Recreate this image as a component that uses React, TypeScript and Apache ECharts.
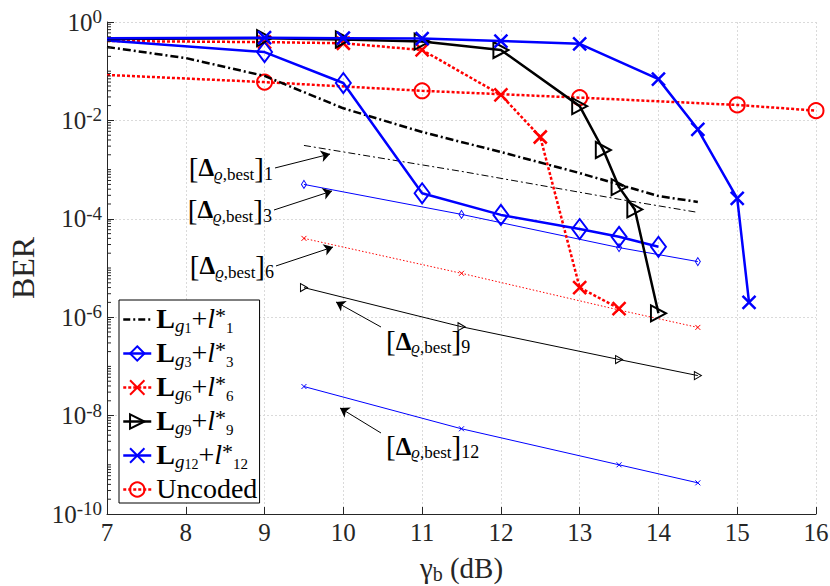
import React, { useEffect, useRef } from 'react';
import * as echarts from 'echarts';

// ---------------- data ----------------
const lg1X = [7, 8, 9, 10, 11, 12, 13, 14, 14.5];
const lg1Y = [0.31, 0.185, 0.08, 0.0176, 0.0058, 0.00228, 0.00085, 0.00029, 0.00022];

const lg3X = [7, 9, 10, 11, 12, 13, 13.5, 14];
const lg3Y = [0.42, 0.245, 0.0575, 0.00033, 0.00012, 0.000062, 0.000043, 0.000027];

const lg6X = [7, 9, 10, 11, 12, 12.5, 13, 13.5];
const lg6Y = [0.41, 0.39, 0.37, 0.27, 0.033, 0.0046, 0.000004, 0.0000015];

const lg9X = [7, 9, 10, 11, 12, 13, 13.3, 13.5, 13.7, 14];
const lg9Y = [0.45, 0.47, 0.44, 0.4, 0.27, 0.0195, 0.0025, 0.00044, 0.000155, 0.0000012];

const lg12X = [7, 9, 10, 11, 12, 13, 14, 14.5, 15, 15.15];
const lg12Y = [0.47, 0.48, 0.47, 0.46, 0.41, 0.36, 0.069, 0.0066, 0.00026, 0.000002];

const uncX = [7, 9, 11, 13, 15, 16];
const uncY = [0.084, 0.06, 0.04, 0.029, 0.0206, 0.0158];

const bestX = [9.5, 11.5, 13.5, 14.5];
const best1Y = [0.0031, 0.00092, 0.00025, 0.000135];
const best3Y = [0.0005, 0.000123, 0.000026, 0.0000135];
const best6Y = [0.00004, 0.0000078, 0.0000014, 0.00000062];
const best9Y = [0.000004, 0.00000064, 0.000000138, 0.000000065];
const best12Y = [3.9e-8, 5.4e-9, 1.0e-9, 4.3e-10];

// x positions without a marker
const noMarkAt7 = [7];

// y axis: labelled decades every 2, minor ticks on the log grid (mantissas 1..9)
const yMinExp = -10;
const yMaxExp = 0;
const minorMantissas = [1, 2, 3, 4, 5, 6, 7, 8, 9];

// annotation labels: index k of [Δ_{ϱ,best}]_k, arrow start / end and text anchor (data coords)
const annK = ['1', '3', '6', '9', '12'];
const annFrom = [[9.133, 1.08e-3], [9.12, 1.51e-4], [9.145, 1.1e-5], [10.478, 6.32e-7], [10.478, 4.43e-9]];
const annTo = [[9.831, 2.07e-3], [9.856, 3.67e-4], [9.869, 2.67e-5], [9.907, 2.04e-6], [9.958, 1.43e-8]];
const annText = [[9.12, 1.08e-3], [9.107, 1.51e-4], [9.133, 1.1e-5], [10.529, 3.28e-7], [10.529, 2.41e-9]];
const annSide = ['left', 'left', 'left', 'right', 'right'];

// ---------------- styles ----------------
const SERIF = 'Liberation Serif, Times New Roman, serif';
const BLUE = '#0000ff';
const RED = '#ff0000';
const BLACK = '#000000';
const AX = '#262626';
const XSYM = 'path://M0,0L10,10M10,0L0,10';
const GRID = { color: '#dadada', width: 1, type: [2, 2] as any };

const mk = (xs: number[], ys: number[], noMark: number[]) =>
  xs.map((x, i) => (noMark.indexOf(x) >= 0 ? { value: [x, ys[i]], symbol: 'none' } : [x, ys[i]]));

const hollow = (c: string, w = 2) => ({ color: 'rgba(0,0,0,0)', borderColor: c, borderWidth: w });

// minor tick values (not on labelled decades)
const minorTickValues: number[] = [];
for (let e = yMinExp; e < yMaxExp; e++) {
  minorMantissas.forEach((m) => {
    if (m === 1 && (e - yMinExp) % 2 === 0) return;
    minorTickValues.push(m * Math.pow(10, e));
  });
}

const annRich = {
  br: { fontFamily: SERIF, fontSize: 29, lineHeight: 30, color: BLACK },
  D: { fontFamily: SERIF, fontSize: 25, fontWeight: 'bold', lineHeight: 30, color: BLACK },
  r: { fontFamily: SERIF, fontSize: 17, fontStyle: 'italic', lineHeight: 25, verticalAlign: 'bottom', color: BLACK },
  s: { fontFamily: SERIF, fontSize: 17, lineHeight: 25, verticalAlign: 'bottom', color: BLACK },
  n: { fontFamily: SERIF, fontSize: 18, lineHeight: 21, verticalAlign: 'bottom', color: BLACK },
};

const annSeriesExtras = (i: number) => ({
  markLine: {
    silent: true,
    animation: false,
    symbol: ['none', 'arrow'],
    symbolSize: 9,
    label: { show: false },
    lineStyle: { color: BLACK, width: 1, type: 'solid' },
    emphasis: { disabled: true },
    data: [[{ coord: annFrom[i] }, { coord: annTo[i] }]],
  },
  markPoint: {
    silent: true,
    animation: false,
    symbol: 'circle',
    symbolSize: 0,
    itemStyle: { color: 'rgba(0,0,0,0)' },
    label: {
      show: true,
      position: annSide[i],
      distance: 1,
      formatter: `{br|[}{D|Δ}{r|ϱ}{s|,best}{br|]}{n|${annK[i]}}`,
      rich: annRich,
    },
    data: [{ coord: annText[i] }],
  },
});

const legendRich = {
  L: { fontFamily: SERIF, fontSize: 28, fontWeight: 'bold', lineHeight: 26, verticalAlign: 'top', color: BLACK },
  t: { fontFamily: SERIF, fontSize: 28, lineHeight: 26, verticalAlign: 'top', color: BLACK },
  u: { fontFamily: SERIF, fontSize: 28, lineHeight: 28, verticalAlign: 'top', color: BLACK },
  i: { fontFamily: SERIF, fontSize: 28, fontStyle: 'italic', lineHeight: 26, verticalAlign: 'top', color: BLACK },
  g: { fontFamily: SERIF, fontSize: 19, fontStyle: 'italic', lineHeight: 25, verticalAlign: 'bottom', color: BLACK },
  gn: { fontFamily: SERIF, fontSize: 14, lineHeight: 16, verticalAlign: 'bottom', color: BLACK },
  ast: { fontFamily: SERIF, fontSize: 22, lineHeight: 28, verticalAlign: 'top', color: BLACK },
  ln: { fontFamily: SERIF, fontSize: 15, lineHeight: 16, verticalAlign: 'bottom', color: BLACK },
  pad: { fontFamily: SERIF, fontSize: 1, lineHeight: 31 },
};

const legendFormatter = (name: string) => {
  if (name === 'Uncoded') return '{u|Uncoded}{pad| }';
  const k = name.slice(2);
  return `{L|L}{g|g}{gn|${k}}{t|+}{i|l}{ast|*}{ln|${k}}{pad| }`;
};

function buildOption(): any {
  return {
    animation: false,
    backgroundColor: '#ffffff',
    grid: { left: 107, right: 14, top: 22, bottom: 72, outerBoundsMode: 'none' },
    xAxis: {
      type: 'value',
      min: 7,
      max: 16,
      interval: 1,
      axisLine: { show: true, onZero: false, lineStyle: { color: AX, width: 1 } },
      axisTick: { show: true, inside: true, length: 7, lineStyle: { color: AX } },
      axisLabel: { color: AX, fontSize: 25, lineHeight: 28, fontFamily: SERIF, margin: 4 },
      splitLine: { show: true, lineStyle: GRID },
      name: '{g|γ}{b|b}{t| (dB)}',
      nameLocation: 'middle',
      nameGap: 38,
      nameTextStyle: {
        fontFamily: SERIF,
        fontSize: 29,
        color: AX,
        rich: {
          g: { fontFamily: SERIF, fontSize: 29, lineHeight: 32, color: AX },
          b: { fontFamily: SERIF, fontSize: 20, lineHeight: 23, verticalAlign: 'bottom', color: AX },
          t: { fontFamily: SERIF, fontSize: 29, lineHeight: 32, color: AX },
        },
      },
    },
    yAxis: {
      type: 'log',
      logBase: 10,
      min: Math.pow(10, yMinExp),
      max: Math.pow(10, yMaxExp),
      interval: 2,
      axisLine: { show: true, onZero: false, lineStyle: { color: AX, width: 1 } },
      axisTick: { show: true, inside: true, length: 7, lineStyle: { color: AX } },
      axisLabel: {
        color: AX,
        fontSize: 25,
        lineHeight: 30,
        fontFamily: SERIF,
        margin: 5,
        formatter: (v: number) => `10{sup|${Math.round(Math.log10(v))}}`,
        rich: { sup: { fontFamily: SERIF, fontSize: 19, lineHeight: 18, verticalAlign: 'top', color: AX } },
      },
      splitLine: { show: true, lineStyle: GRID },
      name: 'BER',
      nameLocation: 'middle',
      nameGap: 64,
      nameTextStyle: { fontFamily: SERIF, fontSize: 32, lineHeight: 36, color: AX },
    },
    legend: {
      show: true,
      orient: 'vertical',
      left: 119,
      top: 300,
      align: 'left',
      itemWidth: 28,
      itemHeight: 18,
      itemGap: 3,
      itemTextGap: 2,
      padding: [4, 2, 1, 3],
      backgroundColor: '#ffffff',
      borderColor: BLACK,
      borderWidth: 1,
      borderRadius: 0,
      selectedMode: false,
      formatter: legendFormatter,
      textStyle: { fontFamily: SERIF, fontSize: 28, color: BLACK, rich: legendRich },
      data: [
        { name: 'Lg1', itemStyle: { opacity: 0 }, lineStyle: { color: BLACK, width: 2.5, type: [7, 3, 2, 3] } },
        { name: 'Lg3', itemStyle: hollow(BLUE), lineStyle: { color: BLUE, width: 2.5, type: 'solid' } },
        { name: 'Lg6', itemStyle: hollow(RED), lineStyle: { color: RED, width: 2.5, type: [3, 2] } },
        { name: 'Lg9', itemStyle: hollow(BLACK), lineStyle: { color: BLACK, width: 2.5, type: 'solid' } },
        { name: 'Lg12', itemStyle: hollow(BLUE), lineStyle: { color: BLUE, width: 2.5, type: 'solid' } },
        { name: 'Uncoded', itemStyle: hollow(RED), lineStyle: { color: RED, width: 2.5, type: [3, 2] } },
      ],
    },
    series: [
      // minor ticks of the log y axis, placed through the axis scale
      {
        name: 'yMinorTicks',
        type: 'custom',
        silent: true,
        clip: false,
        z: 8,
        data: minorTickValues.map((v) => [7, v]),
        encode: { x: 0, y: 1 },
        renderItem: (params: any, api: any) => {
          const p = api.coord([api.value(0), api.value(1)]);
          return {
            type: 'line',
            shape: { x1: p[0], y1: p[1], x2: p[0] + 4, y2: p[1] },
            style: { stroke: AX, lineWidth: 1 },
          };
        },
      },
      // thin reference lines [Δ]_k
      {
        name: 'D1', type: 'line', data: mk(bestX, best1Y, []), symbol: 'none', z: 3,
        lineStyle: { color: BLACK, width: 1, type: [7, 3, 2, 3] }, itemStyle: { color: BLACK },
        emphasis: { disabled: true }, ...annSeriesExtras(0),
      },
      {
        name: 'D3', type: 'line', data: mk(bestX, best3Y, []), symbol: 'diamond', symbolSize: [5, 8], z: 3,
        lineStyle: { color: BLUE, width: 1 }, itemStyle: hollow(BLUE, 1),
        emphasis: { disabled: true }, ...annSeriesExtras(1),
      },
      {
        name: 'D6', type: 'line', data: mk(bestX, best6Y, []), symbol: XSYM, symbolSize: 5, z: 3,
        lineStyle: { color: RED, width: 1, type: [1.5, 2] }, itemStyle: hollow(RED, 1),
        emphasis: { disabled: true }, ...annSeriesExtras(2),
      },
      {
        name: 'D9', type: 'line', data: mk(bestX, best9Y, []), symbol: 'triangle', symbolRotate: -90, symbolSize: [8, 7], z: 3,
        lineStyle: { color: BLACK, width: 1 }, itemStyle: hollow(BLACK, 1),
        emphasis: { disabled: true }, ...annSeriesExtras(3),
      },
      {
        name: 'D12', type: 'line', data: mk(bestX, best12Y, []), symbol: XSYM, symbolSize: 5, z: 3,
        lineStyle: { color: BLUE, width: 1 }, itemStyle: hollow(BLUE, 1),
        emphasis: { disabled: true }, ...annSeriesExtras(4),
      },
      // main curves
      {
        name: 'Uncoded', type: 'line', data: mk(uncX, uncY, noMarkAt7), symbol: 'circle', symbolSize: 15, z: 4,
        lineStyle: { color: RED, width: 2.5, type: [3, 2] }, itemStyle: hollow(RED), emphasis: { disabled: true },
      },
      {
        name: 'Lg1', type: 'line', data: mk(lg1X, lg1Y, lg1X), symbol: 'none', z: 5,
        lineStyle: { color: BLACK, width: 2.5, type: [8, 3, 2, 3] }, itemStyle: { color: BLACK }, emphasis: { disabled: true },
      },
      {
        name: 'Lg6', type: 'line', data: mk(lg6X, lg6Y, noMarkAt7), symbol: XSYM, symbolSize: 13, z: 5,
        lineStyle: { color: RED, width: 2.5, type: [3, 2] }, itemStyle: hollow(RED, 2.5), emphasis: { disabled: true },
      },
      {
        name: 'Lg3', type: 'line', data: mk(lg3X, lg3Y, noMarkAt7), symbol: 'diamond', symbolSize: [15, 20], z: 6,
        lineStyle: { color: BLUE, width: 2.5 }, itemStyle: hollow(BLUE), emphasis: { disabled: true },
      },
      {
        name: 'Lg9', type: 'line', data: mk(lg9X, lg9Y, noMarkAt7), symbol: 'triangle', symbolRotate: -90, symbolSize: [16, 15], z: 6,
        lineStyle: { color: BLACK, width: 2.5 }, itemStyle: hollow(BLACK), emphasis: { disabled: true },
      },
      {
        name: 'Lg12', type: 'line', data: mk(lg12X, lg12Y, noMarkAt7), symbol: XSYM, symbolSize: 13, z: 7,
        lineStyle: { color: BLUE, width: 2.5 }, itemStyle: hollow(BLUE, 2.5), emphasis: { disabled: true },
      },
    ],
  };
}

export default function App() {
  const ref = useRef<HTMLDivElement>(null);
  useEffect(() => {
    if (!ref.current) return;
    const chart = echarts.init(ref.current, undefined, { renderer: 'svg' });
    chart.setOption(buildOption());
    return () => chart.dispose();
  }, []);
  return (
    <div
      ref={ref}
      style={{ position: 'fixed', left: 0, top: 0, width: 830, height: 586, background: '#fff' }}
    />
  );
}
